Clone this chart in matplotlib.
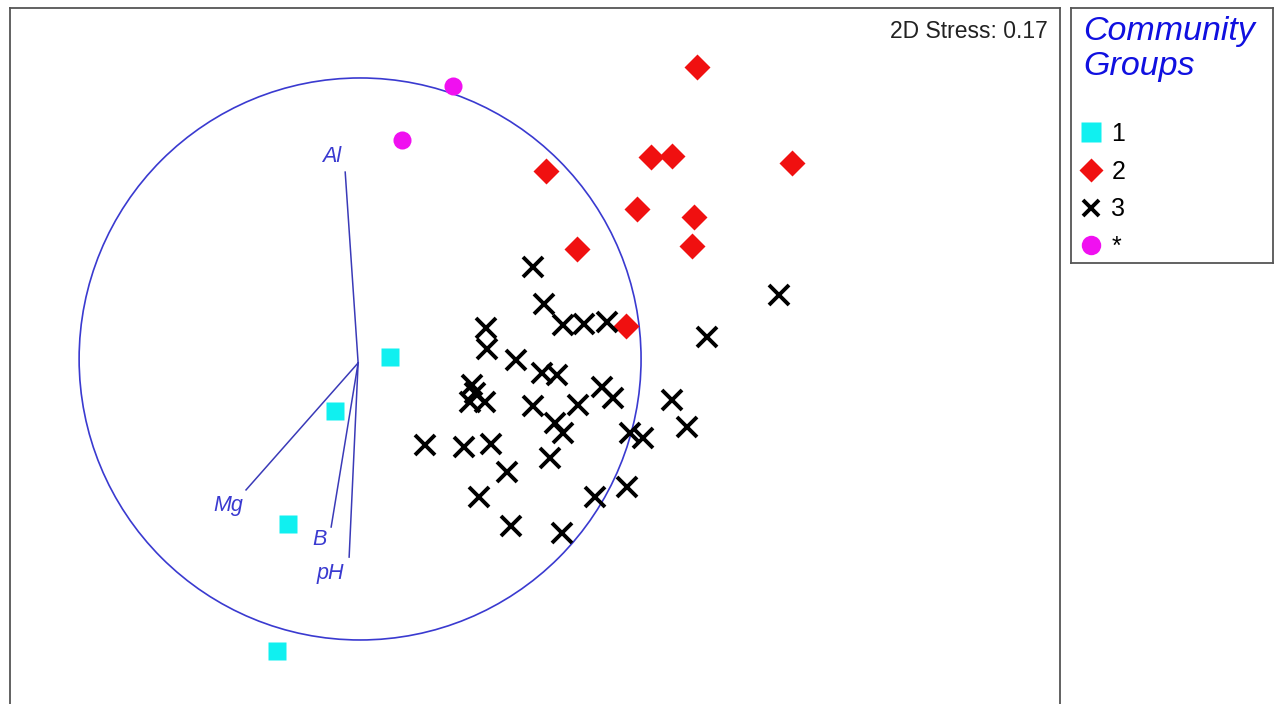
import numpy as np
import matplotlib.pyplot as plt
from matplotlib.patches import Circle
from matplotlib.lines import Line2D

plt.rcParams['font.family'] = ['Liberation Sans', 'DejaVu Sans']

# nMDS ordination scores (circle radius = 1)
grp1_x = [0.107, -0.089, -0.256, -0.295]
grp1_y = [0.007, -0.185, -0.587, -1.039]

grp2_x = [1.199, 1.036, 1.110, 1.537, 0.662, 0.986, 1.189, 0.772, 1.181, 0.947]
grp2_y = [1.039, 0.719, 0.722, 0.698, 0.669, 0.534, 0.505, 0.391, 0.402, 0.117]

grp3_x = [0.616, 0.655, 0.722, 0.797, 0.879, 1.235, 0.448, 0.452, 0.555, 0.648,
          0.701, 0.399, 0.409, 0.391, 0.445, 0.616, 0.776, 0.861, 0.900, 1.110,
          0.694, 0.722, 0.961, 1.007, 1.164, 0.231, 0.370, 0.466, 0.676, 0.523,
          0.423, 0.836, 0.950, 0.537, 0.719, 1.491]
grp3_y = [0.327, 0.196, 0.121, 0.125, 0.132, 0.078, 0.110, 0.036, -0.004, -0.050,
          -0.057, -0.093, -0.121, -0.153, -0.153, -0.167, -0.164, -0.100, -0.139, -0.146,
          -0.228, -0.263, -0.263, -0.281, -0.242, -0.306, -0.313, -0.302, -0.352, -0.402,
          -0.491, -0.491, -0.456, -0.594, -0.619, 0.228]

other_x = [0.331, 0.149]
other_y = [0.972, 0.779]

# environmental vectors
vec_names = ['Al', 'Mg', 'B', 'pH']
vec_x = [-0.053, -0.406, -0.103, -0.039]
vec_y = [0.665, -0.466, -0.598, -0.705]
vec_origin = (-0.007, -0.014)
lab_x = [-0.100, -0.470, -0.146, -0.107]
lab_y = [0.719, -0.520, -0.644, -0.762]

legend_labels = ['1', '2', '3', '*']

W, H = 1276, 704
fig = plt.figure(figsize=(W / 100, H / 100), dpi=100)

# main panel, bottom edge runs off the figure as in the source
ax = fig.add_axes([10 / W, -20 / H, 1050 / W, 716 / H])
ax.set_xlim(-1.246, 2.491)
ax.set_ylim(-1.299, 1.249)
ax.set_xticks([])
ax.set_yticks([])
for s in ax.spines.values():
    s.set_color('#555555')
    s.set_linewidth(1.3)

ax.add_patch(Circle((0, 0), 1.0, fill=False, ec='#3a3ad0', lw=1.2))
for name, vx, vy, lx, ly in zip(vec_names, vec_x, vec_y, lab_x, lab_y):
    ax.plot([vec_origin[0], vx], [vec_origin[1], vy], c='#3a3ab8', lw=1.1)
    ax.text(lx, ly, name, color='#3a3ad0', style='italic', fontsize=15.5,
            ha='center', va='center')

ax.plot(grp1_x, grp1_y, ls='none', marker='s', ms=13, c='#10f0f0', mec='none')
ax.plot(grp2_x, grp2_y, ls='none', marker='D', ms=13, c='#f01010', mec='none')
ax.plot(grp3_x, grp3_y, ls='none', marker='x', ms=14, mew=2.8, c='black')
ax.plot(other_x, other_y, ls='none', marker='o', ms=13, c='#f010f0', mec='none')

ax.text(0.9886, 0.983, '2D Stress: 0.17', transform=ax.transAxes,
        ha='right', va='top', fontsize=16.5, color='#222222')

# legend panel
lax = fig.add_axes([1071 / W, 1 - 263 / H, 202 / W, 255 / H])
lax.set_xticks([])
lax.set_yticks([])
for s in lax.spines.values():
    s.set_color('#555555')
    s.set_linewidth(1.3)
lax.text(0.06, 0.875, 'Community', transform=lax.transAxes, ha='left',
         va='baseline', fontsize=24.5, style='italic', color='#1010e0')
lax.text(0.06, 0.737, 'Groups', transform=lax.transAxes, ha='left',
         va='baseline', fontsize=24.5, style='italic', color='#1010e0')

handles = [
    Line2D([], [], ls='none', marker='s', ms=14, c='#10f0f0', mec='none'),
    Line2D([], [], ls='none', marker='D', ms=12, c='#f01010', mec='none'),
    Line2D([], [], ls='none', marker='x', ms=12, mew=2.8, c='black'),
    Line2D([], [], ls='none', marker='o', ms=14, c='#f010f0', mec='none'),
]
lax.legend(handles, legend_labels, loc='upper left',
           bbox_to_anchor=(-0.01, 0.593), frameon=False, fontsize=18,
           handlelength=1.0, handletextpad=0.3, labelspacing=0.55,
           borderaxespad=0.0)

fig.savefig('out.png', dpi=100)
